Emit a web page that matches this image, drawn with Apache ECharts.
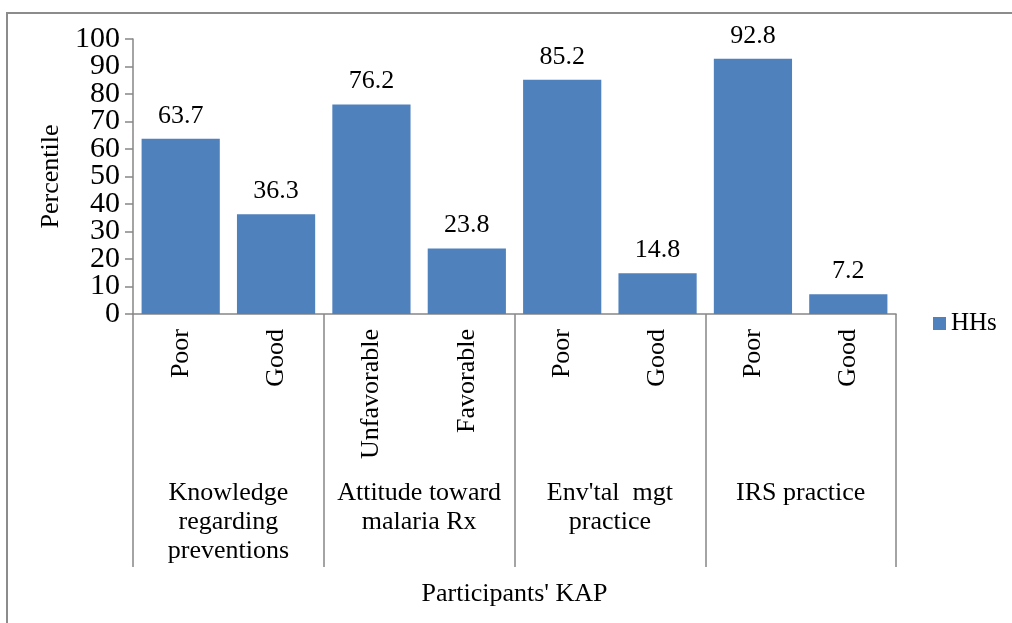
<!DOCTYPE html>
<html>
<head>
<meta charset="utf-8">
<style>
  html, body { margin: 0; padding: 0; background: #ffffff; }
  #chart { width: 1012px; height: 623px; }
</style>
<script src="https://cdn.jsdelivr.net/npm/echarts@6/dist/echarts.min.js"></script>
</head>
<body>
<div id="chart"></div>
<script>
// KAP levels per household (HHs), percent
const subCategories = ['Poor', 'Good', 'Unfavorable', 'Favorable', 'Poor', 'Good', 'Poor', 'Good'];
const groupLabels = ['Knowledge\nregarding\npreventions', 'Attitude toward\nmalaria Rx', "Env'tal  mgt\npractice", 'IRS practice'];
const hhValues = [63.7, 36.3, 76.2, 23.8, 85.2, 14.8, 92.8, 7.2];
const yTicks = { min: 0, max: 100, interval: 10 };

const serif = '"Liberation Serif", "DejaVu Serif", "Times New Roman", serif';
const axisGray = '#868686';

// The large tick labels sit closer together than their text height, so the
// labels are split over two overlaid value axes (alternate ticks each) to keep
// every one of them visible.
const tickLabelStyle = { fontFamily: serif, fontSize: 30, color: '#000000' };
const evenTicks = v => (Math.round(v / yTicks.interval) % 2 === 0 ? String(v) : '');
const oddTicks = v => (Math.round(v / yTicks.interval) % 2 === 1 ? String(v) : '');

const chart = echarts.init(document.getElementById('chart'), null, { renderer: 'canvas' });

chart.setOption({
  animation: false,
  backgroundColor: '#ffffff',
  textStyle: { fontFamily: serif, color: '#000000' },
  graphic: [{
    type: 'rect',
    silent: true,
    shape: { x: 7, y: 13, width: 1100, height: 700 },
    style: { fill: 'none', stroke: '#8c8c8c', lineWidth: 2 }
  }],
  grid: { left: 133, right: 116, top: 39, bottom: 309, containLabel: false },
  legend: {
    data: ['HHs'],
    left: 928,
    top: 306,
    icon: 'rect',
    itemWidth: 13,
    itemHeight: 13,
    textStyle: { fontFamily: serif, fontSize: 25, color: '#000000' }
  },
  xAxis: [{
    type: 'category',
    data: subCategories,
    position: 'bottom',
    axisLine: { show: true, lineStyle: { color: axisGray, width: 1.5 } },
    axisTick: { show: false },
    axisLabel: {
      interval: 0,
      rotate: 90,
      margin: 15,
      fontFamily: serif,
      fontSize: 26,
      color: '#000000'
    },
    splitLine: { show: false }
  }, {
    type: 'category',
    data: groupLabels,
    position: 'bottom',
    axisLine: { show: false },
    axisTick: { show: true, length: 253, lineStyle: { color: axisGray, width: 1.5 } },
    axisLabel: {
      interval: 0,
      margin: 165,
      fontFamily: serif,
      fontSize: 26,
      lineHeight: 29,
      color: '#000000'
    },
    splitLine: { show: false },
    name: "Participants' KAP",
    nameLocation: 'middle',
    nameGap: 267,
    nameTextStyle: { fontFamily: serif, fontSize: 26, color: '#000000' }
  }],
  yAxis: [{
    type: 'value',
    position: 'left',
    min: yTicks.min,
    max: yTicks.max,
    interval: yTicks.interval,
    axisLine: { show: true, lineStyle: { color: axisGray, width: 1.5 } },
    axisTick: { show: true, inside: false, length: 8, lineStyle: { color: axisGray, width: 1.5 } },
    axisLabel: Object.assign({ margin: 13, formatter: evenTicks }, tickLabelStyle),
    splitLine: { show: false },
    name: 'Percentile',
    nameLocation: 'middle',
    nameRotate: 90,
    nameGap: 67,
    nameTextStyle: { fontFamily: serif, fontSize: 26, color: '#000000' }
  }, {
    type: 'value',
    position: 'left',
    min: yTicks.min,
    max: yTicks.max,
    interval: yTicks.interval,
    axisLine: { show: false },
    axisTick: { show: false },
    axisLabel: Object.assign({ margin: 13, formatter: oddTicks }, tickLabelStyle),
    splitLine: { show: false }
  }],
  series: [{
    name: 'HHs',
    type: 'bar',
    xAxisIndex: 0,
    yAxisIndex: 0,
    data: hhValues,
    barCategoryGap: '18%',
    itemStyle: { color: '#4F81BD' },
    label: {
      show: true,
      position: 'top',
      distance: 10,
      fontFamily: serif,
      fontSize: 26,
      color: '#000000',
      formatter: p => p.value.toFixed(1)
    }
  }]
});
</script>
</body>
</html>
